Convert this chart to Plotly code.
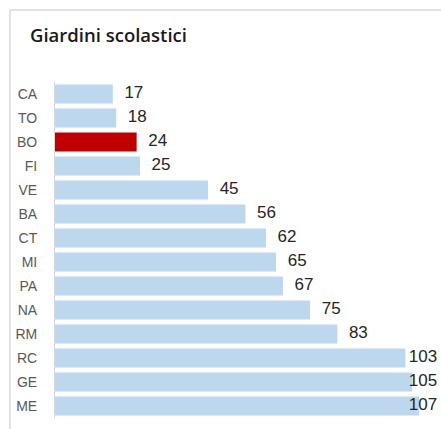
import plotly.graph_objects as go

categories = ["CA", "TO", "BO", "FI", "VE", "BA", "CT", "MI", "PA", "NA", "RM", "RC", "GE", "ME"]
values = [17, 18, 24, 25, 45, 56, 62, 65, 67, 75, 83, 103, 105, 107]
highlight = "BO"
title_text = "Giardini scolastici"

BLUE = "#BDD7EE"
RED = "#C00000"
colors = [RED if c == highlight else BLUE for c in categories]

xmax = max(values)
# label positions: just after bar end, but kept inside the chart frame
pad = 3.4
label_cap = xmax - 3.0
label_x = [min(v + pad, label_cap) for v in values]

FONT = "Liberation Sans, Arial, sans-serif"

fig = go.Figure()
fig.add_trace(go.Bar(
    x=values, y=categories, orientation="h",
    marker=dict(color=colors, line=dict(width=0)),
    hoverinfo="skip",
))
fig.add_trace(go.Scatter(
    x=label_x, y=categories, mode="text",
    text=[str(v) for v in values], textposition="middle right",
    textfont=dict(family=FONT, size=17, color="#262626"),
    cliponaxis=False, hoverinfo="skip",
))

L, R, T, B = 55, 22, 82, 11
W, H = 441, 429
pw, ph = W - L - R, H - T - B
n = len(categories)

fig.update_layout(
    width=W, height=H,
    margin=dict(l=L, r=R, t=T, b=B, autoexpand=False),
    paper_bgcolor="white", plot_bgcolor="white",
    showlegend=False, bargap=0.2,
    title=dict(text=title_text, x=30 / W, xanchor="left", y=1 - 36 / H, yanchor="middle",
               font=dict(family="Open Sans, Liberation Sans, sans-serif", size=18.5, weight=600,
                         color="#1A1A1A")),
    xaxis=dict(range=[0, xmax], visible=False, fixedrange=True),
    yaxis=dict(range=[n - 0.5, -0.5], showline=True, linecolor="#D9D9D9", linewidth=1,
               ticks="", ticklabelstandoff=14, showgrid=False, zeroline=False, fixedrange=True,
               tickfont=dict(family=FONT, size=14, color="#595959")),
    shapes=[dict(type="rect", xref="paper", yref="paper",
                 x0=(10 - L) / pw, x1=(W + 20 - L) / pw,
                 y0=-(B + 20) / ph, y1=1 + (T - 10) / ph,
                 line=dict(color="#D9D9D9", width=1.5), fillcolor="rgba(0,0,0,0)", layer="below")],
)

fig.write_html("out.html", config={"displayModeBar": False, "staticPlot": True},
               post_script="document.body.style.margin='0';document.body.style.overflow='hidden';")
